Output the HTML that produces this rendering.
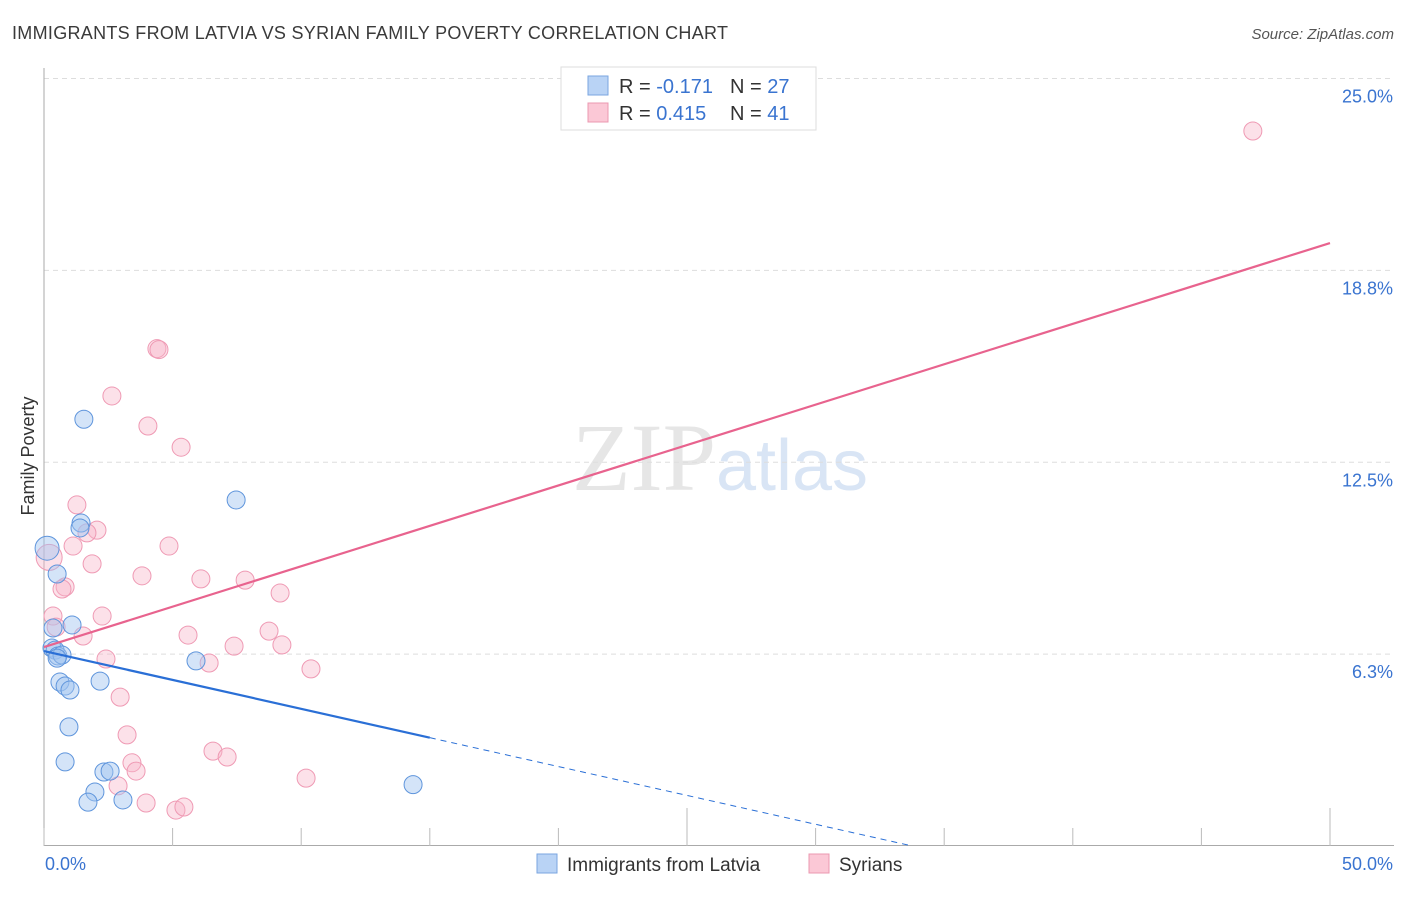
<!DOCTYPE html>
<html><head><meta charset="utf-8"><style>
body{margin:0;background:#fff;font-family:"Liberation Sans",sans-serif;}
</style></head><body>
<svg id="chart" width="1406" height="892" xmlns="http://www.w3.org/2000/svg" font-family="Liberation Sans, sans-serif">
<text x="12" y="39" font-size="18" fill="#3a3a3a" textLength="716">IMMIGRANTS FROM LATVIA VS SYRIAN FAMILY POVERTY CORRELATION CHART</text>
<text x="1394" y="39" font-size="15" fill="#555" font-style="italic" text-anchor="end">Source: ZipAtlas.com</text>
<text x="720" y="490" font-size="96" text-anchor="middle" fill="#e6e6e6" font-family="Liberation Serif, serif">ZIP<tspan fill="#d9e5f5" font-family="Liberation Sans, sans-serif" font-size="72">atlas</tspan></text>
<text transform="translate(34,456) rotate(-90)" font-size="18" fill="#333" text-anchor="middle">Family Poverty</text>
<g id="grid"></g><g id="axes"></g><g id="pts"></g><g id="lines"></g>
<g>
<rect x="561" y="67" width="255" height="63" fill="#fff" stroke="#ddd"/>
<rect x="588" y="76" width="20" height="19" fill="#b9d3f5" stroke="#7aa6e0"/>
<rect x="588" y="103" width="20" height="19" fill="#fbc8d6" stroke="#eb98b0"/>
<text x="619" y="93" font-size="20" fill="#333">R = <tspan fill="#3a74d0">-0.171</tspan><tspan x="730">N = </tspan><tspan fill="#3a74d0">27</tspan></text>
<text x="619" y="120" font-size="20" fill="#333">R = <tspan fill="#3a74d0"> 0.415</tspan><tspan x="730">N = </tspan><tspan fill="#3a74d0"> 41</tspan></text>
</g>
<g>
<rect x="537" y="854" width="20" height="19" fill="#b9d3f5" stroke="#7aa6e0"/>
<text x="567" y="871" font-size="19" fill="#333">Immigrants from Latvia</text>
<rect x="809" y="854" width="20" height="19" fill="#fbc8d6" stroke="#eb98b0"/>
<text x="839" y="871" font-size="19" fill="#333">Syrians</text>
</g>
</svg>
<script>
const yTicks=[6.25,12.5,18.75,25];
const yTickLabels=["6.3%","12.5%","18.8%","25.0%"];
const xTicks=[0,5,10,15,20,25,30,35,40,45,50];
const latviaX=[0.12,1.55,7.47,1.44,1.40,0.51,1.09,0.35,0.31,0.43,0.54,0.70,0.51,0.62,0.82,1.01,2.18,5.91,0.97,0.82,2.33,2.57,1.98,1.71,3.07,14.35];
const latviaY=[9.7,13.9,11.27,10.52,10.36,8.86,7.2,7.1,6.45,6.38,6.19,6.22,6.12,5.34,5.21,5.08,5.37,6.03,3.88,2.74,2.41,2.44,1.76,1.43,1.5,2.0];
const syrX=[4.39,4.47,2.64,4.04,5.33,1.28,2.06,1.67,1.13,4.86,0.2,1.87,3.81,6.1,7.82,9.18,0.82,0.7,0.35,2.26,1.52,5.6,8.75,7.39,9.25,2.41,6.42,10.38,2.96,3.23,6.57,7.12,3.42,3.58,10.19,2.88,3.97,5.13,5.44,47.0,0.47];
const syrY=[16.2,16.17,14.66,13.68,12.99,11.11,10.29,10.2,9.77,9.77,9.4,9.19,8.8,8.7,8.66,8.24,8.44,8.37,7.49,7.49,6.84,6.87,7.0,6.51,6.55,6.09,5.96,5.77,4.85,3.62,3.09,2.9,2.71,2.44,2.21,1.96,1.4,1.17,1.27,23.29,7.13];
const sizeBig=[0];const syrBig=[10];
const pinkTrend=[6.48,19.64];
const blueTrend=[6.35,0.03];
const X=v=>44+v*(1286/50), Y=v=>846-v*30.7;
const NS="http://www.w3.org/2000/svg";
function mk(p,t,a){const e=document.createElementNS(NS,t);for(const k in a)e.setAttribute(k,a[k]);p.appendChild(e);return e;}
const g=document.getElementById('grid'),ax=document.getElementById('axes'),pts=document.getElementById('pts'),ln=document.getElementById('lines');
yTicks.forEach((v,i)=>{
 const l=mk(g,'line',{x1:44,x2:1394,y1:Y(v),y2:Y(v),stroke:'#ddd','stroke-dasharray':'5,4'});
 
 
 const t=mk(g,'text',{x:1393,y:Y(v)+24,'font-size':18,fill:'#3a74d0','text-anchor':'end'});t.textContent=yTickLabels[i];
 
 
});
mk(ax,'line',{x1:44,x2:44,y1:68,y2:846,stroke:'#aaa'});
mk(ax,'line',{x1:44,x2:1394,y1:845.5,y2:845.5,stroke:'#aaa'});
xTicks.forEach(v=>{const tall=(v==25||v==50);const t=mk(ax,'line',{x1:X(v),x2:X(v),y1:tall?808:828,y2:846,stroke:'#bbb'});
 
 });
const xl0=mk(ax,'text',{x:45,y:870,'font-size':18,fill:'#3a74d0'});xl0.textContent='0.0%';


const xl1=mk(ax,'text',{x:1393,y:870,'font-size':18,fill:'#3a74d0','text-anchor':'end'});xl1.textContent='50.0%';


syrX.forEach((x,i)=>{const c=mk(pts,'circle',{cx:X(x),cy:Y(syrY[i]),r:syrBig.includes(i)?13:9,fill:'rgba(248,180,200,0.4)',stroke:'#ef9ab4','stroke-width':1});
 
 });
latviaX.forEach((x,i)=>{const c=mk(pts,'circle',{cx:X(x),cy:Y(latviaY[i]),r:sizeBig.includes(i)?12:9,fill:'rgba(160,195,240,0.45)',stroke:'#5f95dc','stroke-width':1});
 
 });
const pl=mk(ln,'line',{x1:X(0),y1:Y(pinkTrend[0]),x2:X(50),y2:Y(pinkTrend[1]),stroke:'#e8638e','stroke-width':2.2});


const bend=33.6, bAt=x=>blueTrend[0]+(blueTrend[1]-blueTrend[0])*x/bend;
const bl=mk(ln,'line',{x1:X(0),y1:Y(bAt(0)),x2:X(15),y2:Y(bAt(15)),stroke:'#2a6fd6','stroke-width':2.2});


const bd=mk(ln,'line',{x1:X(15),y1:Y(bAt(15)),x2:X(bend),y2:Y(bAt(bend)),stroke:'#2a6fd6','stroke-width':1,'stroke-dasharray':'6,5'});


</script>
</body></html>
